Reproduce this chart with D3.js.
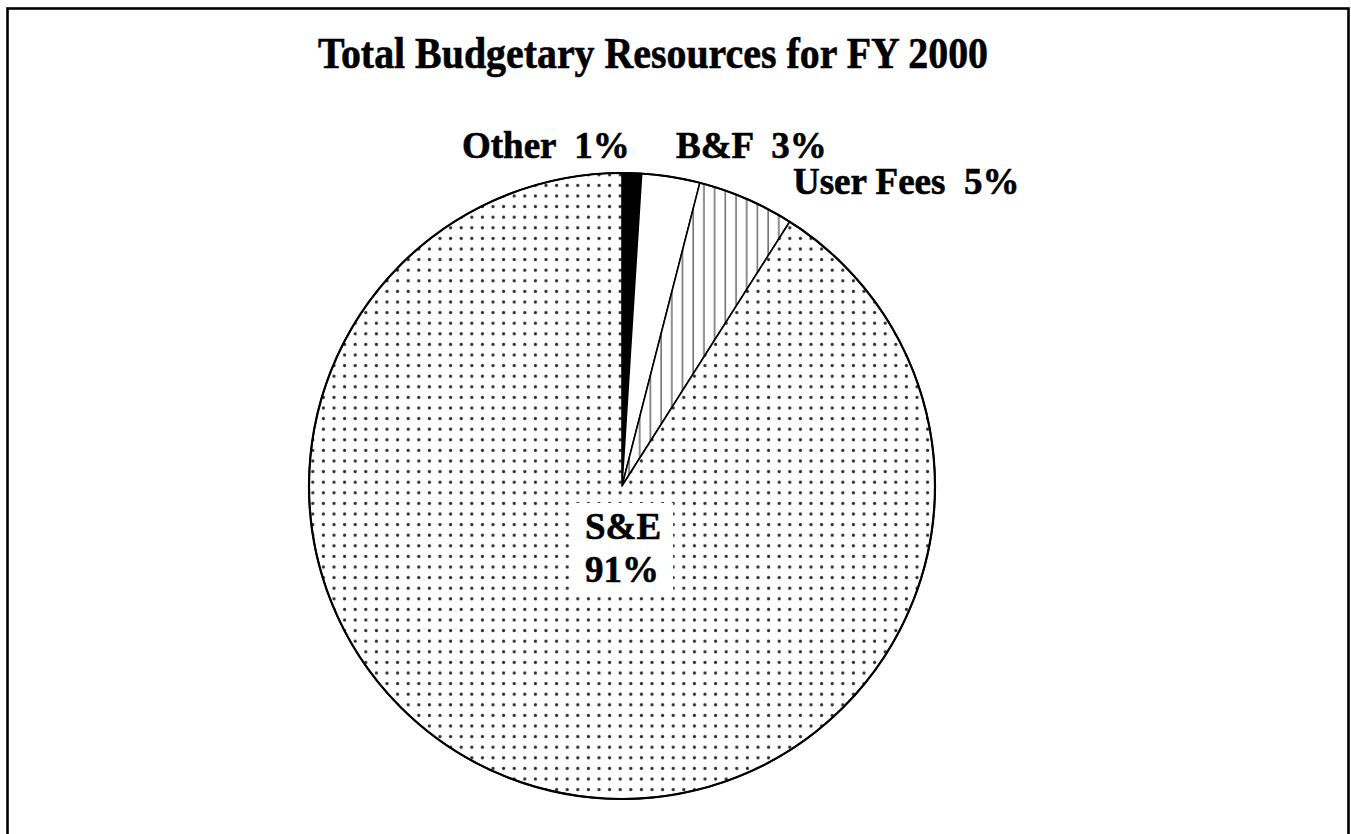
<!DOCTYPE html>
<html>
<head>
<meta charset="utf-8">
<script src="https://cdn.jsdelivr.net/npm/d3@7"></script>
<style>
  html, body { margin: 0; padding: 0; background: #fff; }
  svg { display: block; }
  text { font-family: "Liberation Serif", "Times New Roman", serif; font-weight: bold; fill: #000; stroke: #000; stroke-width: 0.6; white-space: pre; }
</style>
</head>
<body>
<svg id="chart" width="1351" height="834"></svg>
<script>
// Budget shares for FY 2000, clockwise from 12 o'clock
const categories = ["Other", "B&F", "User Fees", "S&E"];
const shares = [1, 3, 5, 91];
const fills = ["solid", "blank", "hatch", "dots"];
const titleText = "Total Budgetary Resources for FY 2000";

const W = 1351, H = 834;
const svg = d3.select("#chart");
const defs = svg.append("defs");

// Dotted screen used by the largest slice
const dotStep = 10.6;
const dots = defs.append("pattern")
  .attr("id", "dots").attr("patternUnits", "userSpaceOnUse")
  .attr("x", 3.5).attr("y", 1.5)
  .attr("width", dotStep).attr("height", dotStep);
dots.append("rect").attr("width", dotStep).attr("height", dotStep).attr("fill", "#fff");
dots.append("circle").attr("cx", dotStep / 2).attr("cy", dotStep / 2).attr("r", 1.6).attr("fill", "#2a2a2a");

// Vertical hatching
const hatch = defs.append("pattern")
  .attr("id", "hatch").attr("patternUnits", "userSpaceOnUse")
  .attr("x", 2).attr("width", 10.7).attr("height", 10);
hatch.append("rect").attr("width", 10.7).attr("height", 10).attr("fill", "#fff");
hatch.append("line").attr("x1", 5).attr("x2", 5).attr("y1", 0).attr("y2", 10)
  .attr("stroke", "#444").attr("stroke-width", 1.2);

const fillFor = { solid: "#000", blank: "#fff", hatch: "url(#hatch)", dots: "url(#dots)" };

// Outer frame (open at the bottom edge)
svg.append("rect")
  .attr("x", 7.5).attr("y", 8.5).attr("width", 1341).attr("height", H + 20)
  .attr("fill", "none").attr("stroke", "#000").attr("stroke-width", 2.6);

// Title, set condensed
svg.append("text")
  .attr("x", 318).attr("y", 68)
  .attr("font-size", 44)
  .attr("textLength", 670).attr("lengthAdjust", "spacingAndGlyphs")
  .text(titleText);

// Pie
const cx = 622, cy = 486, R = 313;
const data = categories.map((c, i) => ({ name: c, value: shares[i], fill: fills[i] }));
const pie = d3.pie().sort(null).value(d => d.value);
const arc = d3.arc().innerRadius(0).outerRadius(R);

const g = svg.append("g").attr("transform", `translate(${cx},${cy})`);
g.selectAll("path.slice")
  .data(pie(data))
  .join("path")
  .attr("class", "slice")
  .attr("d", arc)
  .attr("fill", d => fillFor[d.data.fill])
  .attr("stroke", "#000")
  .attr("stroke-width", 1.6)
  .attr("stroke-linejoin", "round");

g.append("circle").attr("r", R).attr("fill", "none").attr("stroke", "#000").attr("stroke-width", 2.2);

// Slice labels
const labels = [
  { lines: ["Other  " + shares[0] + "%"], x: 462, y: 158 },
  { lines: ["B&F  " + shares[1] + "%"], x: 676, y: 158 },
  { lines: ["User Fees  " + shares[2] + "%"], x: 793, y: 194 },
  { lines: ["S&E", shares[3] + "%"], x: 585, y: 539, boxed: true }
];

labels.forEach(l => {
  const grp = svg.append("g");
  const bg = grp.append("rect").attr("fill", "#fff").attr("stroke", "none");
  const t = grp.append("text").attr("font-size", 37);
  l.lines.forEach((s, i) => {
    t.append("tspan").attr("x", l.x).attr("y", l.y + i * 43).text(s);
  });
  if (l.boxed) {
    const b = t.node().getBBox();
    bg.attr("x", b.x - 14).attr("y", b.y - 3).attr("width", b.width + 26).attr("height", b.height + 6);
  } else {
    bg.remove();
  }
});
</script>
</body>
</html>
